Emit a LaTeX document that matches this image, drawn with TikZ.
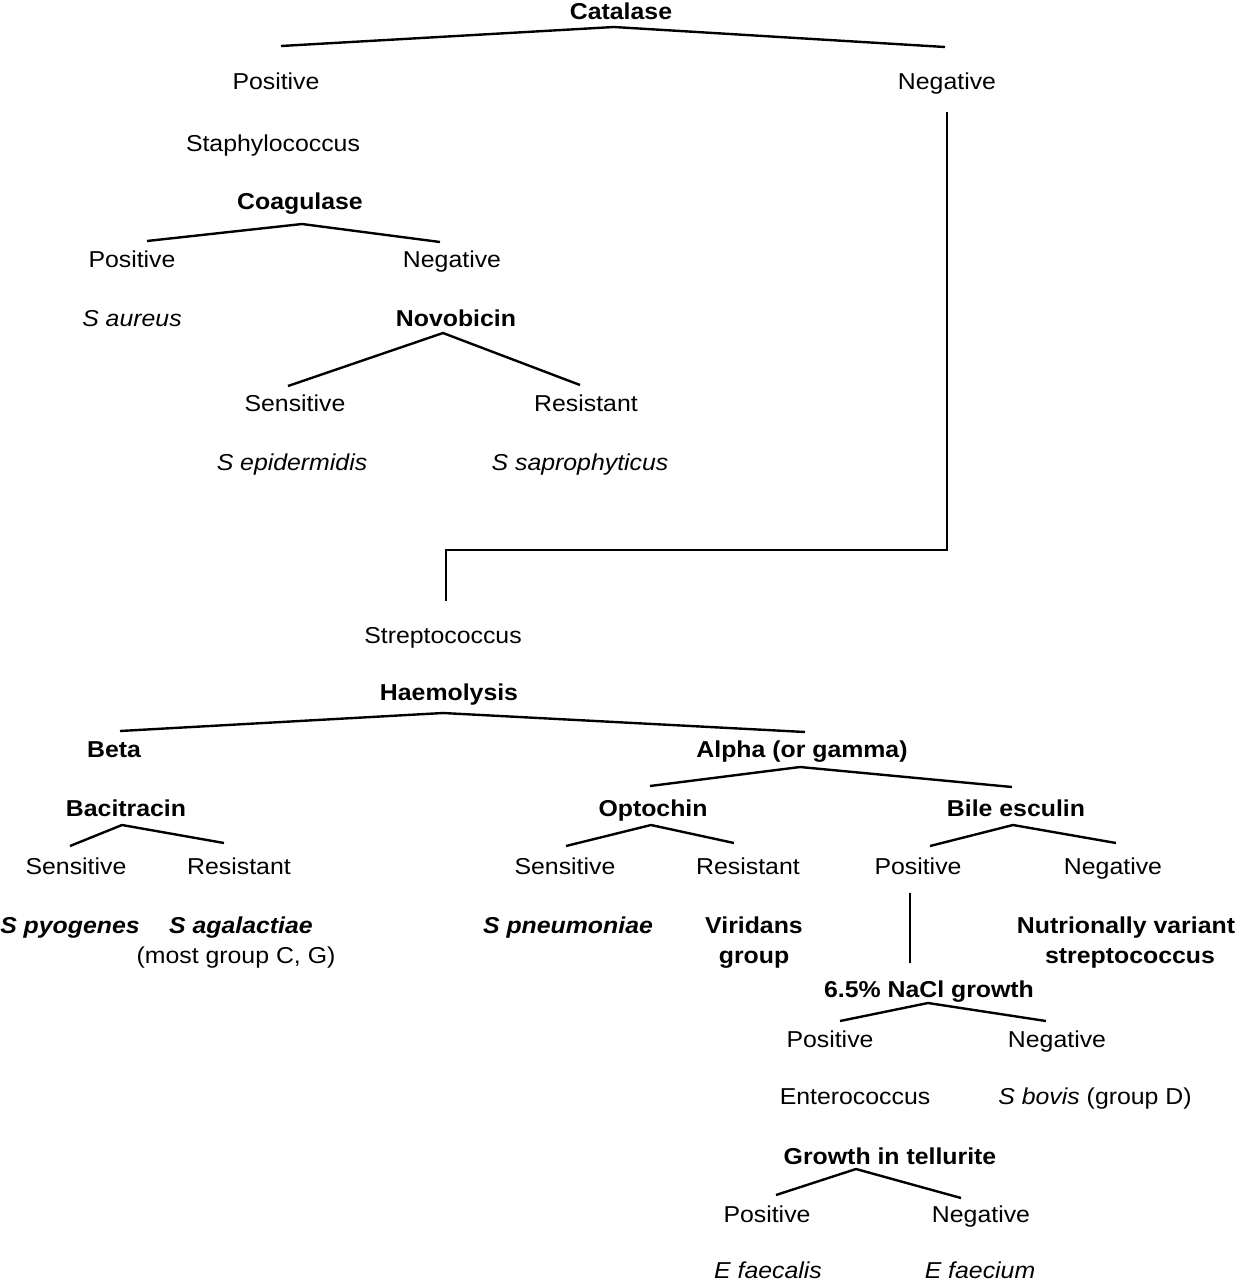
\documentclass[tikz,border=0pt]{standalone}
\usepackage{fontspec}
\setmainfont{Liberation Sans}[FakeStretch=1.08]
\begin{document}
\begin{tikzpicture}[x=1pt,y=-1pt,
  every node/.style={inner sep=0pt, anchor=base, font=\fontsize{23}{30}\selectfont},
  hd/.style={font=\fontsize{23}{30}\selectfont\bfseries},
  sp/.style={font=\fontsize{23}{30}\selectfont\itshape},
  spb/.style={font=\fontsize{23}{30}\selectfont\bfseries\itshape},
  conn/.style={line width=2.4pt, line join=miter}]
\useasboundingbox (0,0) rectangle (1237,1280);
% nodes
\node[hd] (cat) at (621,19) {Catalase};
\node (catpos) at (276,89) {Positive};
\node (catneg) at (947,89) {Negative};
\node (staph) at (273,151) {Staphylococcus};
\node[hd] (coag) at (300,209) {Coagulase};
\node (coagpos) at (132,267) {Positive};
\node (coagneg) at (452,267) {Negative};
\node[sp] (saur) at (132,326) {S aureus};
\node[hd] (novo) at (456,326) {Novobicin};
\node (novosen) at (295,411) {Sensitive};
\node (novores) at (586,411) {Resistant};
\node[sp] (sepi) at (292,470) {S epidermidis};
\node[sp] (ssap) at (580,470) {S saprophyticus};
\node (strep) at (443,643) {Streptococcus};
\node[hd] (haem) at (449,700) {Haemolysis};
\node[hd] (beta) at (114,757) {Beta};
\node[hd] (alpha) at (802,757) {Alpha (or gamma)};
\node[hd] (baci) at (126,816) {Bacitracin};
\node (bacisen) at (76,874) {Sensitive};
\node (bacires) at (239,874) {Resistant};
\node[spb] (spyo) at (70,933) {S pyogenes};
\node[spb] (saga) at (241,933) {S agalactiae};
\node (sagagrp) at (236,963) {(most group C, G)};
\node[hd] (opto) at (653,816) {Optochin};
\node (optosen) at (565,874) {Sensitive};
\node (optores) at (748,874) {Resistant};
\node[spb] (spneu) at (568,933) {S pneumoniae};
\node[hd] (vir1) at (754,933) {Viridans};
\node[hd] (vir2) at (754,963) {group};
\node[hd] (bile) at (1016,816) {Bile esculin};
\node (bilepos) at (918,874) {Positive};
\node (bileneg) at (1113,874) {Negative};
\node[hd] (nvs1) at (1126,933) {Nutrionally variant};
\node[hd] (nvs2) at (1130,963) {streptococcus};
\node[hd] (nacl) at (929,997) {6.5\% NaCl growth};
\node (naclpos) at (830,1047) {Positive};
\node (naclneg) at (1057,1047) {Negative};
\node (entero) at (855,1104) {Enterococcus};
\node (sbov) at (1095,1104) {\textit{S bovis} (group D)};
\node[hd] (tell) at (890,1164) {Growth in tellurite};
\node (tellpos) at (767,1222) {Positive};
\node (tellneg) at (981,1222) {Negative};
\node[sp] (efls) at (768,1278) {E faecalis};
\node[sp] (efcm) at (980,1278) {E faecium};
% connector points
\coordinate (catL) at (281,46); \coordinate (catP) at (614,27); \coordinate (catR) at (945,47);
\coordinate (coagL) at (147,241); \coordinate (coagP) at (302,224); \coordinate (coagR) at (440,242);
\coordinate (novoL) at (288,386); \coordinate (novoP) at (443,333); \coordinate (novoR) at (580,385);
\coordinate (negA) at (947,112); \coordinate (negB) at (947,550); \coordinate (negC) at (446,550); \coordinate (negD) at (446,601);
\coordinate (haemL) at (120,731); \coordinate (haemP) at (443,713); \coordinate (haemR) at (805,732);
\coordinate (alphaL) at (650,786); \coordinate (alphaP) at (800,767); \coordinate (alphaR) at (1012,787);
\coordinate (baciL) at (70,846); \coordinate (baciP) at (122,825); \coordinate (baciR) at (224,843);
\coordinate (optoL) at (566,846); \coordinate (optoP) at (651,825); \coordinate (optoR) at (734,843);
\coordinate (bileL) at (930,846); \coordinate (bileP) at (1013,825); \coordinate (bileR) at (1116,843);
\coordinate (bposA) at (910,893); \coordinate (bposB) at (910,963);
\coordinate (naclL) at (840,1021); \coordinate (naclP) at (928,1003); \coordinate (naclR) at (1046,1021);
\coordinate (tellL) at (776,1195); \coordinate (tellP) at (856,1169); \coordinate (tellR) at (961,1198);
% connectors
\draw[conn] (catL) -- (catP) -- (catR);
\draw[conn] (coagL) -- (coagP) -- (coagR);
\draw[conn] (novoL) -- (novoP) -- (novoR);
\draw[conn] (negA) -- (negB) -- (negC) -- (negD);
\draw[conn] (haemL) -- (haemP) -- (haemR);
\draw[conn] (alphaL) -- (alphaP) -- (alphaR);
\draw[conn] (baciL) -- (baciP) -- (baciR);
\draw[conn] (optoL) -- (optoP) -- (optoR);
\draw[conn] (bileL) -- (bileP) -- (bileR);
\draw[conn] (bposA) -- (bposB);
\draw[conn] (naclL) -- (naclP) -- (naclR);
\draw[conn] (tellL) -- (tellP) -- (tellR);
\end{tikzpicture}
\end{document}
